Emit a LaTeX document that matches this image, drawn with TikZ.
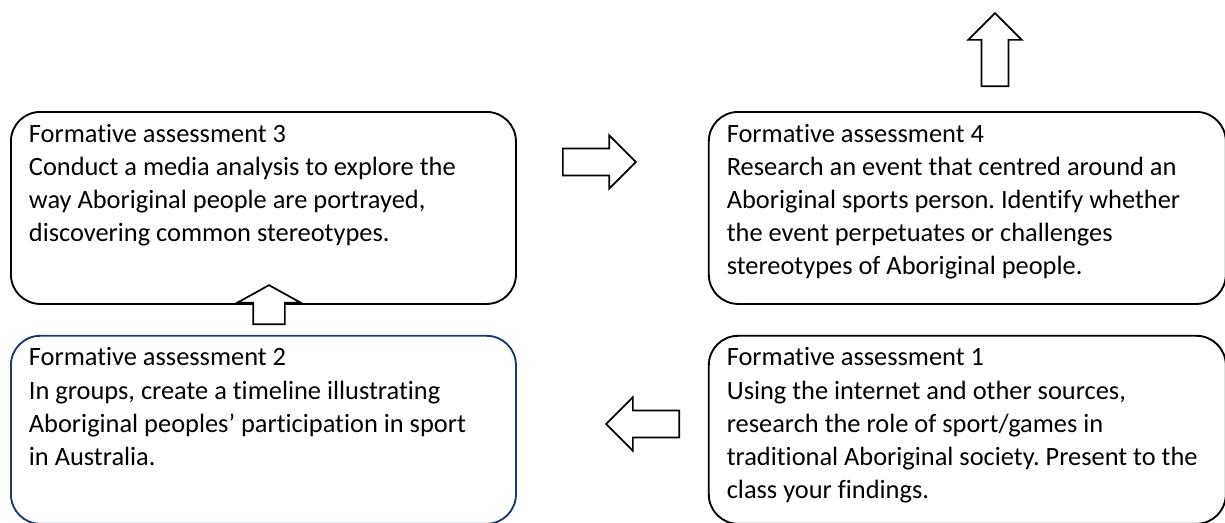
\documentclass[tikz,border=0pt]{standalone}
\usepackage{fontspec}
\setmainfont{Carlito}[Ligatures=NoCommon]
\usepackage{tikz}
\usetikzlibrary{positioning,shapes.arrows}
\definecolor{navy}{RGB}{31,56,100}
\newcommand{\boxtext}[3]{\parbox[t][#2][t]{#1}{\raggedright\frenchspacing\leftskip=13.5pt #3}}

\begin{document}
\begin{tikzpicture}[x=0.75pt, y=-0.75pt, font=\fontsize{19.8pt}{24.8pt}\selectfont,
fabox/.style={draw,rounded corners=22pt,line width=1.4pt,inner xsep=0pt,inner ysep=9pt},
blockarr/.style={draw,fill=white,single arrow,line width=1.3pt,inner xsep=0pt,inner ysep=9.4pt,minimum width=0pt,single arrow head extend=10pt,single arrow tip angle=90,minimum height=54.75pt},
flatarr/.style={blockarr,inner ysep=11.25pt,single arrow head extend=12pt,single arrow tip angle=122,minimum height=29.25pt}]
\useasboundingbox (0,0) rectangle (1225,522);
\node[fabox,anchor=north west] (fa3) at (10,111) {\boxtext{378.75pt}{126pt}{Formative assessment 3\\Conduct a media analysis to explore the\\way Aboriginal people are portrayed,\\discovering common stereotypes.}};
\node[fabox,right=143.25pt of fa3] (fa4) {\boxtext{387.75pt}{126pt}{Formative assessment 4\\Research an event that centred around an\\Aboriginal sports person. Identify whether\\the event perpetuates or challenges\\stereotypes of Aboriginal people.}};
\node[fabox,draw=navy,below=22.5pt of fa3] (fa2) {\boxtext{378.75pt}{123pt}{Formative assessment 2\\In groups, create a timeline illustrating\\Aboriginal peoples’ participation in sport\\in Australia.}};
\node[fabox,below=22.5pt of fa4] (fa1) {\boxtext{387.75pt}{123pt}{Formative assessment 1\\Using the internet and other sources,\\research the role of sport/games in\\traditional Aboriginal society. Present to the\\class your findings.}};
% block arrows between the tasks
\node[blockarr,anchor=tail] (next34) at (562,162) {};
\node[blockarr,rotate=180,anchor=tail] (next12) at (680,424) {};
\node[blockarr,rotate=90,anchor=tail] (next4) at (995,87) {};
\node[flatarr,rotate=90,anchor=tail] (next23) at (269,325) {};
\end{tikzpicture}
\end{document}
